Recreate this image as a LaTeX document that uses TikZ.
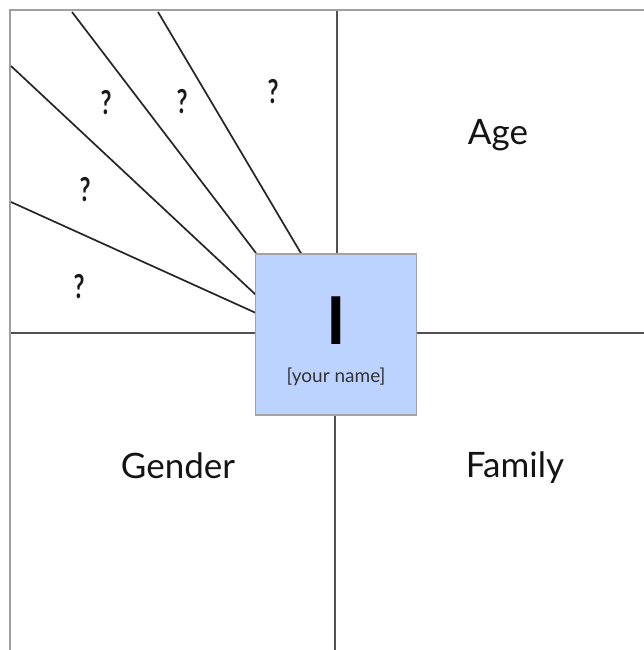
\documentclass[tikz,border=0pt]{standalone}
\usepackage{fontspec}
\setmainfont{Lato}
\definecolor{frameGray}{HTML}{A0A0A0}
\definecolor{lineDark}{HTML}{262626}
\definecolor{boxFill}{HTML}{BBD3FE}
\definecolor{boxEdge}{HTML}{A3A3A3}
\begin{document}
\begin{tikzpicture}[x=1pt,y=-1pt,
  frameline/.style={draw=frameGray,line width=1.8pt},
  divider/.style={draw=lineDark!80,line width=1.9pt},
  fanline/.style={draw=lineDark,line width=1.7pt},
  qmark/.style={font=\bfseries\fontsize{33}{33}\selectfont,text=black!90},
  region/.style={font=\fontsize{35}{35}\selectfont,text=black!92}]
\useasboundingbox (0,0) rectangle (644,650);
\fill[white] (0,0) rectangle (644,650);

% outer frame (left and top edges only)
\coordinate (frameTR) at (644,10);
\coordinate (frameTL) at (10,10);
\coordinate (frameBL) at (10,650);
\draw[frameline] (frameTR) -- (frameTL) -- (frameBL);

% divider ends
\coordinate (divTop) at (337,11);
\coordinate (divLeft) at (11,333);
\coordinate (divRight) at (644,333);
\coordinate (divBottom) at (335,650);
\coordinate (divTopE) at (337,255);
\coordinate (divLeftE) at (256,333);
\coordinate (divRightE) at (416,333);
\coordinate (divBottomE) at (335,414);

% fan ends on the frame
\coordinate (fanA) at (72,12);
\coordinate (fanB) at (158,12);
\coordinate (fanC) at (11,66);
\coordinate (fanD) at (11,202);
% fan ends on the box
\coordinate (fanAe) at (256,253);
\coordinate (fanBe) at (302,255);
\coordinate (fanCe) at (256,295);
\coordinate (fanDe) at (256,313);

\draw[divider] (divTop) -- (divTopE);
\draw[divider] (divLeft) -- (divLeftE);
\draw[divider] (divRightE) -- (divRight);
\draw[divider] (divBottomE) -- (divBottom);

\draw[fanline] (fanA) -- (fanAe);
\draw[fanline] (fanB) -- (fanBe);
\draw[fanline] (fanC) -- (fanCe);
\draw[fanline] (fanD) -- (fanDe);

% central box
\node[draw=boxEdge,line width=1.8pt,fill=boxFill,minimum width=161pt,minimum height=161pt,inner sep=0pt]
  (me) at (336,334.5) {};
\node[font=\bfseries\fontsize{66}{66}\selectfont] (meI) at (336,321) {I};
\node[font=\fontsize{19}{19}\selectfont,text=black!80] (meName) at (336,377) {[your name]};

% region labels
\node[region] (age) at (498,135) {Age};
\node[region] (gender) at (178,466) {Gender};
\node[region] (family) at (515,468) {Family};

% unknown identities
\node[qmark] (q1) at (106,103) {\scalebox{0.72}[1]{?}};
\node[qmark] (q2) at (182,102) {\scalebox{0.72}[1]{?}};
\node[qmark] (q3) at (273,92) {\scalebox{0.72}[1]{?}};
\node[qmark] (q4) at (85,190) {\scalebox{0.72}[1]{?}};
\node[qmark] (q5) at (79,287) {\scalebox{0.72}[1]{?}};
\end{tikzpicture}
\end{document}
